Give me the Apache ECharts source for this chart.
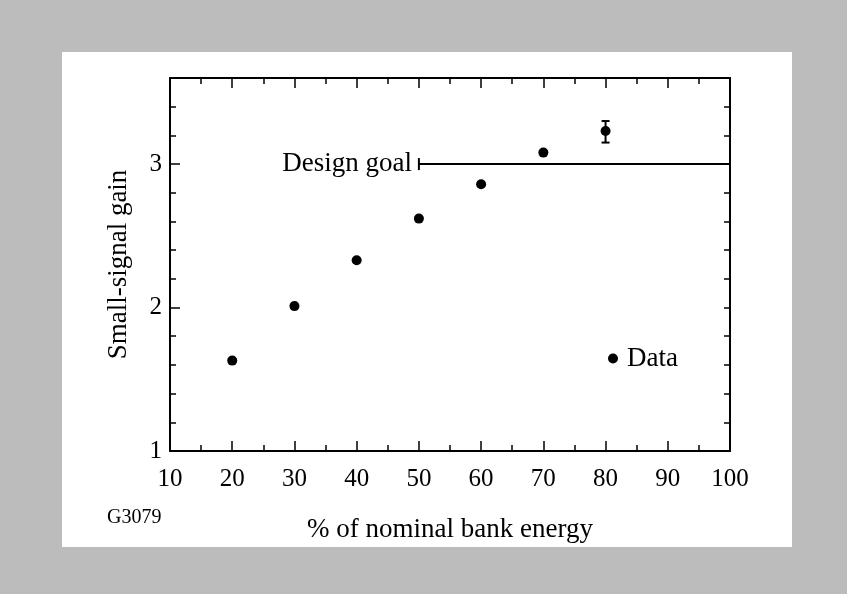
<!DOCTYPE html>
<html><head><meta charset="utf-8">
<script src="https://cdn.jsdelivr.net/npm/echarts@6/dist/echarts.min.js"></script>
<style>html,body{margin:0;padding:0;background:#bcbcbc}#c{width:847px;height:594px}</style>
</head><body><div id="c"></div>
<script>
// ---- data ----
const energyPct = [20, 30, 40, 50, 60, 70, 80];
const smallSignalGain = [1.63, 2.01, 2.33, 2.62, 2.86, 3.08, 3.23];
const errorBarX = [80];
const errorBarLow = [3.15];
const errorBarHigh = [3.30];
const designGoalX = [50, 100];
const designGoalValue = 3.0;
const legendPoint = 'Data';
const designGoalLabel = 'Design goal';
const xAxisTitle = '% of nominal bank energy';
const yAxisTitle = 'Small-signal gain';
const figureId = 'G3079';
const xMin = 10, xMax = 100, xStep = 10;
const yMin = 1, yMax = 3.6, yStep = 1, yMinorStep = 0.2;

const FONT = '"Liberation Serif", "DejaVu Serif", serif';
const INK = '#000';

const chart = echarts.init(document.getElementById('c'), null, {renderer: 'canvas'});

const yLabelFmt = v => (Math.abs(v - Math.round(v)) < 1e-6 ? String(Math.round(v)) : '');

const option = {
  backgroundColor: '#bcbcbc',
  animation: false,
  graphic: [
    {type: 'rect', shape: {x: 62, y: 52, width: 730, height: 495}, style: {fill: '#ffffff'}, z: -10, silent: true},
    {type: 'text', left: 107, top: 508, style: {text: figureId, font: '20px ' + FONT, fill: INK}}
  ],
  grid: {left: 170, right: 117, top: 78, bottom: 143, containLabel: false},
  legend: {
    data: [{name: legendPoint, icon: 'circle', itemStyle: {opacity: 1, color: INK}}],
    left: 603, top: 340, itemWidth: 10, itemHeight: 10, itemGap: 0,
    textStyle: {fontFamily: FONT, fontSize: 27, color: INK, padding: [0, 0, 0, 4]}
  },
  xAxis: [
    {
      type: 'value', position: 'bottom', min: xMin, max: xMax, interval: xStep,
      axisLine: {show: true, lineStyle: {color: INK, width: 2}},
      axisTick: {show: true, inside: true, length: 10, lineStyle: {color: INK, width: 1.5}},
      minorTick: {show: true, splitNumber: 2, length: 6, lineStyle: {color: INK, width: 1.5}},
      axisLabel: {fontFamily: FONT, fontSize: 25, color: INK, margin: 16},
      splitLine: {show: false},
      name: xAxisTitle, nameLocation: 'middle', nameGap: 65,
      nameTextStyle: {fontFamily: FONT, fontSize: 27, color: INK}
    },
    {
      type: 'value', position: 'top', min: xMin, max: xMax, interval: xStep,
      axisLine: {show: true, lineStyle: {color: INK, width: 2}},
      axisTick: {show: true, inside: true, length: 10, lineStyle: {color: INK, width: 1.5}},
      minorTick: {show: true, splitNumber: 2, length: 6, lineStyle: {color: INK, width: 1.5}},
      axisLabel: {show: false}, splitLine: {show: false}
    }
  ],
  yAxis: [
    {
      type: 'value', position: 'left', min: yMin, max: yMax, interval: yStep,
      axisLine: {show: true, lineStyle: {color: INK, width: 2}},
      axisTick: {show: true, inside: true, length: 10, lineStyle: {color: INK, width: 1.5}},
      axisLabel: {fontFamily: FONT, fontSize: 25, color: INK, margin: 8, formatter: yLabelFmt, showMaxLabel: false},
      splitLine: {show: false},
      name: yAxisTitle, nameLocation: 'middle', nameGap: 38,
      nameTextStyle: {fontFamily: FONT, fontSize: 27, color: INK}
    },
    {
      type: 'value', position: 'left', min: yMin, max: yMax, interval: yMinorStep,
      axisLine: {show: false},
      axisTick: {show: true, inside: true, length: 6, lineStyle: {color: INK, width: 1.5}},
      axisLabel: {show: false}, splitLine: {show: false}
    },
    {
      type: 'value', position: 'right', min: yMin, max: yMax, interval: yMinorStep,
      axisLine: {show: true, lineStyle: {color: INK, width: 2}},
      axisTick: {show: true, inside: true, length: 6, lineStyle: {color: INK, width: 1.5}},
      axisLabel: {show: false}, splitLine: {show: false}
    }
  ],
  series: [
    {
      name: 'Design goal line', type: 'line', xAxisIndex: 0, yAxisIndex: 0,
      data: designGoalX.map((x, i) => i === 0
        ? {value: [x, designGoalValue], symbol: 'rect', symbolSize: [2, 12],
           label: {show: true, position: 'left', distance: 6, formatter: designGoalLabel,
                   fontFamily: FONT, fontSize: 27, color: INK}}
        : {value: [x, designGoalValue], symbol: 'none'}),
      lineStyle: {color: INK, width: 2},
      itemStyle: {color: INK, opacity: 1},
      showSymbol: true, silent: true
    },
    {
      name: 'Error bar', type: 'custom', xAxisIndex: 0, yAxisIndex: 0,
      data: errorBarX.map((x, i) => [x, errorBarLow[i], errorBarHigh[i]]),
      renderItem: (params, api) => {
        const lo = api.coord([api.value(0), api.value(1)]);
        const hi = api.coord([api.value(0), api.value(2)]);
        const cap = 4;
        const st = {stroke: INK, lineWidth: 2};
        return {type: 'group', children: [
          {type: 'line', shape: {x1: lo[0], y1: lo[1], x2: hi[0], y2: hi[1]}, style: st},
          {type: 'line', shape: {x1: lo[0] - cap, y1: lo[1], x2: lo[0] + cap, y2: lo[1]}, style: st},
          {type: 'line', shape: {x1: hi[0] - cap, y1: hi[1], x2: hi[0] + cap, y2: hi[1]}, style: st}
        ]};
      },
      silent: true
    },
    {
      name: legendPoint, type: 'scatter', xAxisIndex: 0, yAxisIndex: 0,
      data: energyPct.map((x, i) => [x, smallSignalGain[i]]),
      symbol: 'circle', symbolSize: 10,
      itemStyle: {color: INK, opacity: 1}
    }
  ]
};
chart.setOption(option);
</script>
</body></html>
